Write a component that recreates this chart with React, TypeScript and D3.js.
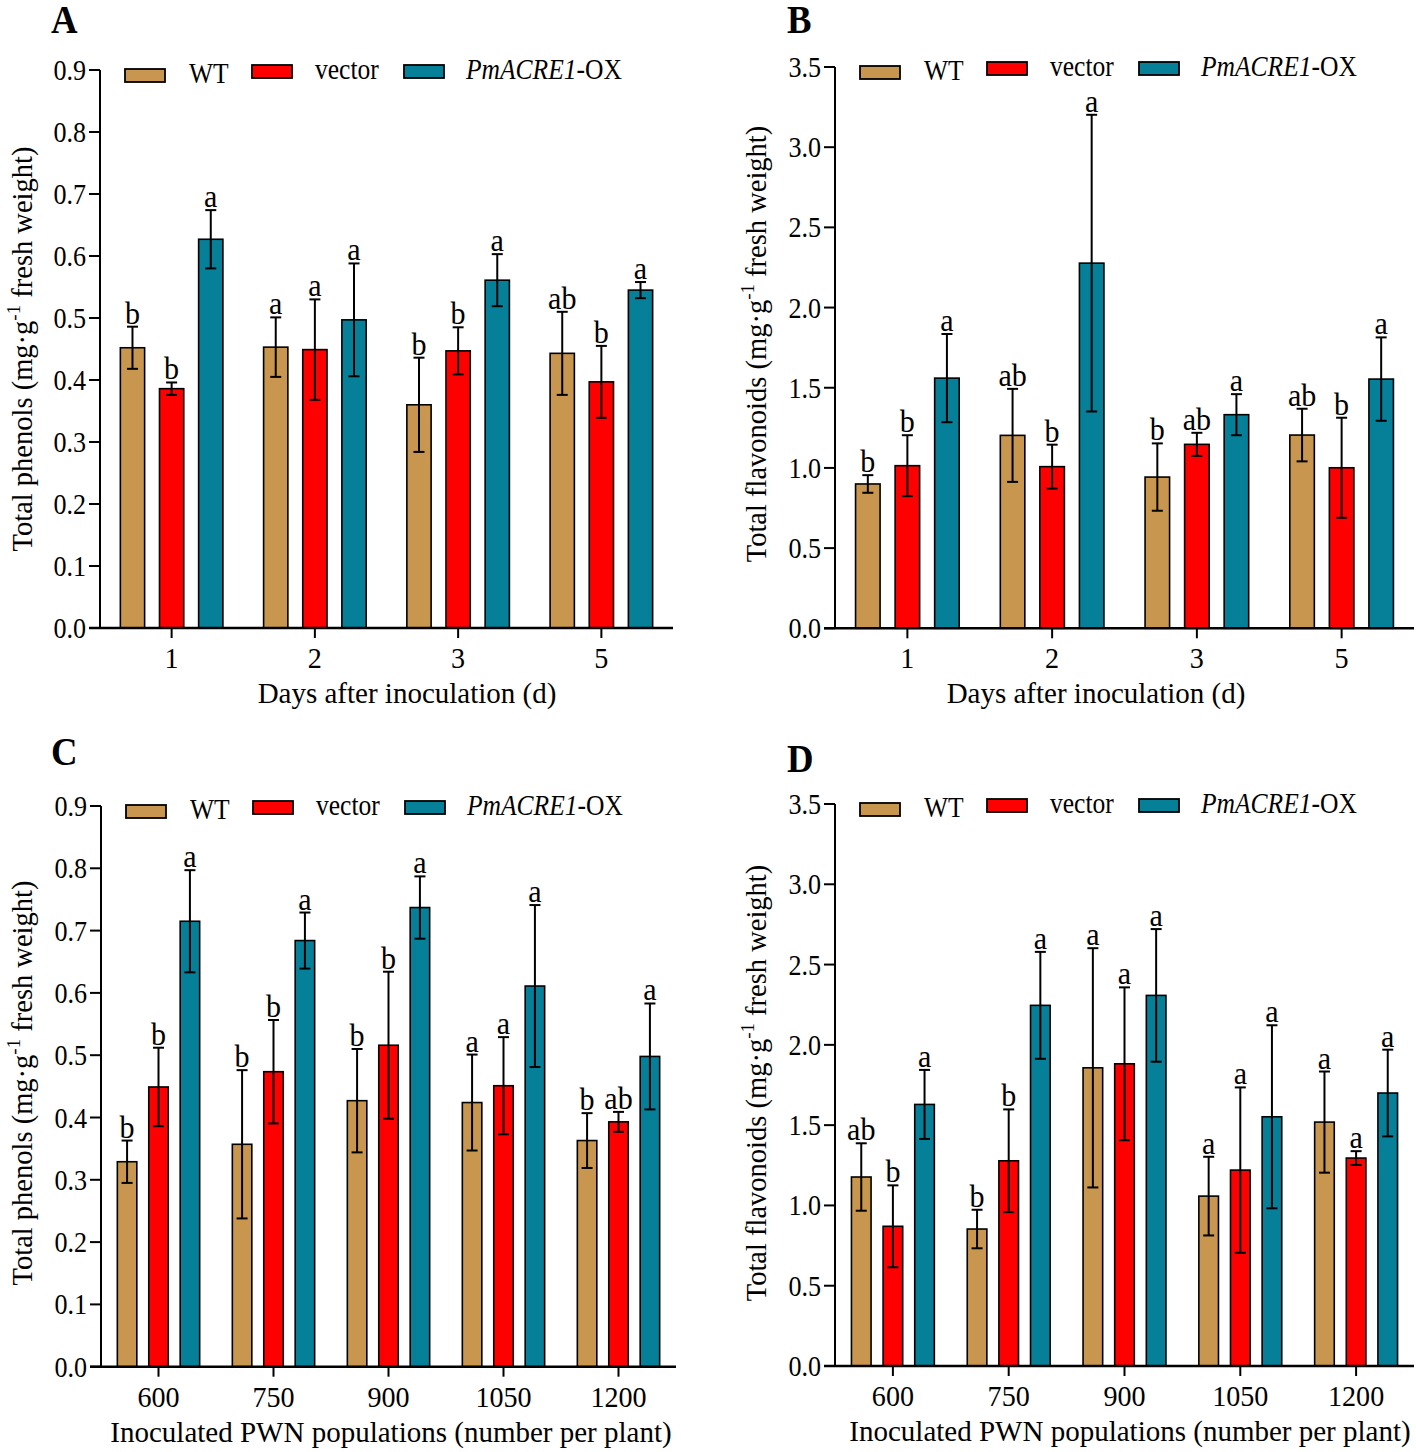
import React from 'react';
import * as d3 from 'd3';

const FONT = "'Liberation Serif', 'Times New Roman', serif";
const SX = 0.88;

const SERIES = ['WT', 'vector', 'PmACRE1-OX'];
const COLORS = ['#C8964F', '#FF0000', '#067F99'];

const daysCats = ['1', '2', '3', '5'];
const pwnCats = ['600', '750', '900', '1050', '1200'];

// Panel A: total phenols vs days
const phenolDaysWT = [0.452, 0.453, 0.360, 0.443];
const phenolDaysVec = [0.386, 0.449, 0.447, 0.397];
const phenolDaysOX = [0.627, 0.497, 0.561, 0.545];
const phenolDaysWTErr = [0.034, 0.048, 0.076, 0.067];
const phenolDaysVecErr = [0.010, 0.081, 0.038, 0.058];
const phenolDaysOXErr = [0.047, 0.091, 0.042, 0.013];
const phenolDaysLetters = [['b', 'b', 'a'], ['a', 'a', 'a'], ['b', 'b', 'a'], ['ab', 'b', 'a']];

// Panel B: total flavonoids vs days
const flavDaysWT = [0.90, 1.203, 0.943, 1.205];
const flavDaysVec = [1.014, 1.008, 1.147, 1.001];
const flavDaysOX = [1.56, 2.277, 1.332, 1.554];
const flavDaysWTErr = [0.055, 0.29, 0.21, 0.164];
const flavDaysVecErr = [0.19, 0.137, 0.072, 0.312];
const flavDaysOXErr = [0.275, 0.925, 0.128, 0.26];
const flavDaysLetters = [['b', 'b', 'a'], ['ab', 'b', 'a'], ['b', 'ab', 'a'], ['ab', 'b', 'a']];

// Panel C: total phenols vs PWN populations
const phenolPwnWT = [0.329, 0.357, 0.427, 0.424, 0.363];
const phenolPwnVec = [0.449, 0.4735, 0.516, 0.451, 0.393];
const phenolPwnOX = [0.715, 0.684, 0.737, 0.611, 0.498];
const phenolPwnWTErr = [0.034, 0.119, 0.083, 0.077, 0.044];
const phenolPwnVecErr = [0.063, 0.083, 0.118, 0.078, 0.016];
const phenolPwnOXErr = [0.082, 0.045, 0.05, 0.13, 0.085];
const phenolPwnLetters = [['b', 'b', 'a'], ['b', 'b', 'a'], ['b', 'b', 'a'], ['a', 'a', 'a'], ['b', 'ab', 'a']];

// Panel D: total flavonoids vs PWN populations
const flavPwnWT = [1.177, 0.853, 1.857, 1.058, 1.519];
const flavPwnVec = [0.870, 1.278, 1.882, 1.22, 1.295];
const flavPwnOX = [1.629, 2.246, 2.308, 1.552, 1.70];
const flavPwnWTErr = [0.21, 0.12, 0.745, 0.245, 0.315];
const flavPwnVecErr = [0.255, 0.32, 0.476, 0.515, 0.043];
const flavPwnOXErr = [0.215, 0.333, 0.413, 0.57, 0.27];
const flavPwnLetters = [['ab', 'b', 'a'], ['b', 'b', 'a'], ['a', 'a', 'a'], ['a', 'a', 'a'], ['a', 'a', 'a']];

const phenolTicks = d3.range(0, 0.91, 0.1);
const flavTicks = d3.range(0, 3.51, 0.5);

type PanelCfg = {
  letter: string; letterX: number; letterY: number;
  axisX: number; axisRight: number; y0: number; yTop: number; yMax: number; ticks: number[];
  cats: string[]; values: number[][]; errs: number[][]; letters: string[][];
  xTitle: string; xTitleX: number; yTitle: string; yTitleX: number; yTitleY: number;
};

const panels: PanelCfg[] = [
  {
    letter: 'A', letterX: 51, letterY: 33, axisX: 100, axisRight: 673, y0: 628, yTop: 70, yMax: 0.9, ticks: phenolTicks,
    cats: daysCats, values: [phenolDaysWT, phenolDaysVec, phenolDaysOX], errs: [phenolDaysWTErr, phenolDaysVecErr, phenolDaysOXErr],
    letters: phenolDaysLetters, xTitle: 'Days after inoculation (d)', xTitleX: 407, yTitle: 'Total phenols', yTitleX: 32, yTitleY: 349,
  },
  {
    letter: 'B', letterX: 787, letterY: 33, axisX: 835, axisRight: 1414, y0: 628.3, yTop: 67, yMax: 3.5, ticks: flavTicks,
    cats: daysCats, values: [flavDaysWT, flavDaysVec, flavDaysOX], errs: [flavDaysWTErr, flavDaysVecErr, flavDaysOXErr],
    letters: flavDaysLetters, xTitle: 'Days after inoculation (d)', xTitleX: 1096, yTitle: 'Total flavonoids', yTitleX: 766, yTitleY: 344,
  },
  {
    letter: 'C', letterX: 51, letterY: 765, axisX: 101, axisRight: 676, y0: 1366.7, yTop: 806, yMax: 0.9, ticks: phenolTicks,
    cats: pwnCats, values: [phenolPwnWT, phenolPwnVec, phenolPwnOX], errs: [phenolPwnWTErr, phenolPwnVecErr, phenolPwnOXErr],
    letters: phenolPwnLetters, xTitle: 'Inoculated PWN populations (number per plant)', xTitleX: 391, yTitle: 'Total phenols', yTitleX: 32, yTitleY: 1083,
  },
  {
    letter: 'D', letterX: 787, letterY: 772, axisX: 835, axisRight: 1414, y0: 1366, yTop: 804, yMax: 3.5, ticks: flavTicks,
    cats: pwnCats, values: [flavPwnWT, flavPwnVec, flavPwnOX], errs: [flavPwnWTErr, flavPwnVecErr, flavPwnOXErr],
    letters: flavPwnLetters, xTitle: 'Inoculated PWN populations (number per plant)', xTitleX: 1130, yTitle: 'Total flavonoids', yTitleX: 766, yTitleY: 1083,
  },
];

function T({ x, y, anchor = 'start', size = 29, sx = SX, weight = 'normal', children }: any) {
  const tr = `translate(${x},${y}) scale(${sx},1)`;
  return (
    <text transform={tr} textAnchor={anchor} fontSize={size} fontWeight={weight} fontFamily={FONT} fill="#000">
      {children}
    </text>
  );
}

function Panel({ cfg }: { cfg: PanelCfg }) {
  const y = d3.scaleLinear().domain([0, cfg.yMax]).range([cfg.y0, cfg.yTop]);
  const x0 = d3.scaleBand().domain(cfg.cats).range([cfg.axisX, cfg.axisRight]).paddingInner(0).paddingOuter(0);
  const x1 = d3.scaleBand().domain(SERIES).range([0, x0.bandwidth()]).paddingInner(0.38).paddingOuter(0.52);
  const bw = x1.bandwidth();
  const fmt = d3.format('.1f');
  const ax = cfg.axisX;
  const lg = cfg.yTop;
  return (
    <g>
      <T x={cfg.letterX} y={cfg.letterY} size={40} weight="bold" sx={0.92}>{cfg.letter}</T>
      {/* bars */}
      {cfg.cats.map((c, i) => (
        <g key={c}>
          {SERIES.map((s, j) => {
            const v = cfg.values[j][i];
            const bx = (x0(c) as number) + (x1(s) as number);
            return (
              <rect key={s} x={bx} y={y(v)} width={bw} height={cfg.y0 - y(v)} fill={COLORS[j]} stroke="#000" strokeWidth={1.6} />
            );
          })}
          {SERIES.map((s, j) => {
            const v = cfg.values[j][i];
            const e = cfg.errs[j][i];
            const cx = (x0(c) as number) + (x1(s) as number) + bw / 2;
            const yt = y(v + e), yb = y(v - e);
            return (
              <g key={s} stroke="#000" strokeWidth={2}>
                <line x1={cx} x2={cx} y1={yt} y2={yb} />
                <line x1={cx - 5.5} x2={cx + 5.5} y1={yt} y2={yt} />
                <line x1={cx - 5.5} x2={cx + 5.5} y1={yb} y2={yb} />
              </g>
            );
          })}
          {SERIES.map((s, j) => {
            const v = cfg.values[j][i];
            const e = cfg.errs[j][i];
            const cx = (x0(c) as number) + (x1(s) as number) + bw / 2;
            return <T key={s} x={cx} y={y(v + e) - 3} anchor="middle" size={31} sx={0.97}>{cfg.letters[i][j]}</T>;
          })}
        </g>
      ))}
      {/* y axis */}
      <line x1={ax} x2={ax} y1={cfg.y0} y2={cfg.yTop} stroke="#000" strokeWidth={2} />
      {cfg.ticks.map((t) => (
        <g key={t}>
          <line x1={ax - 11} x2={ax} y1={y(t)} y2={y(t)} stroke="#000" strokeWidth={2} />
          <T x={ax - 14} y={y(t) + 10} anchor="end" sx={0.9}>{fmt(t)}</T>
        </g>
      ))}
      {/* x axis */}
      <line x1={ax - 11} x2={cfg.axisRight} y1={cfg.y0} y2={cfg.y0} stroke="#000" strokeWidth={2.5} />
      {cfg.cats.map((c) => {
        const cx = (x0(c) as number) + x0.bandwidth() / 2;
        return (
          <g key={c}>
            <line x1={cx} x2={cx} y1={cfg.y0} y2={cfg.y0 + 10} stroke="#000" strokeWidth={2} />
            <T x={cx} y={cfg.y0 + 40} anchor="middle" sx={0.97}>{c}</T>
          </g>
        );
      })}
      <T x={cfg.xTitleX} y={cfg.y0 + 75} anchor="middle" sx={1}>{cfg.xTitle}</T>
      {/* y title */}
      <text transform={`translate(${cfg.yTitleX},${cfg.yTitleY}) rotate(-90)`} textAnchor="middle" fontSize={28.5} fontFamily={FONT} fill="#000">
        {cfg.yTitle} (mg·g<tspan fontSize={19} dy={-12}>-1</tspan><tspan dy={12}> fresh weight)</tspan>
      </text>
      {/* legend */}
      <rect x={ax + 25} y={lg - 1} width={40} height={13} fill={COLORS[0]} stroke="#000" strokeWidth={1.8} />
      <T x={ax + 89} y={lg + 13}>WT</T>
      <rect x={ax + 152} y={lg - 5} width={40} height={13} fill={COLORS[1]} stroke="#000" strokeWidth={1.8} />
      <T x={ax + 215} y={lg + 9}>vector</T>
      <rect x={ax + 304} y={lg - 5} width={40} height={13} fill={COLORS[2]} stroke="#000" strokeWidth={1.8} />
      <text transform={`translate(${ax + 366},${lg + 9}) scale(${SX},1)`} fontSize={29} fontFamily={FONT} fill="#000">
        <tspan fontStyle="italic">PmACRE1</tspan>-OX
      </text>
    </g>
  );
}

export default function App() {
  return (
    <svg width={1416} height={1452} style={{ position: 'absolute', left: 0, top: 0, background: '#fff' }}>
      <rect width={1416} height={1452} fill="#fff" />
      {panels.map((p) => <Panel key={p.letter} cfg={p} />)}
    </svg>
  );
}
